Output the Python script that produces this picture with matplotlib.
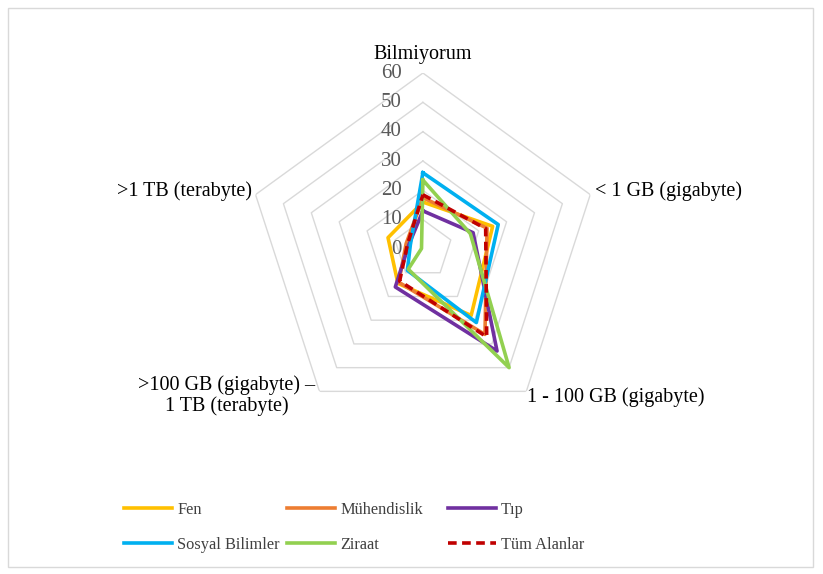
import numpy as np
import matplotlib
matplotlib.use("Agg")
import matplotlib.pyplot as plt
from matplotlib.patches import Rectangle

plt.rcParams['font.family'] = ['Liberation Serif', 'DejaVu Serif']

categories = ["Bilmiyorum", "< 1 GB (gigabyte)", "1 - 100 GB (gigabyte)",
              ">100 GB (gigabyte) \u2013\n1 TB (terabyte)", ">1 TB (terabyte)"]

fen = [16, 25, 28, 14.5, 12.5]
muhendislik = [17.5, 23, 36, 14, 6]
tip = [13, 18, 43, 16, 5]
sosyal = [26, 27, 31, 9, 4.5]
ziraat = [23.5, 17, 50, 8.5, 0.5]
tum = [18.5, 22.5, 37, 13.5, 5.5]

series_names = ["Fen", "Mühendislik", "Tıp", "Sosyal Bilimler", "Ziraat", "Tüm Alanlar"]
series_values = [fen, muhendislik, tip, sosyal, ziraat, tum]
colors = ["#FFC000", "#ED7D31", "#7030A0", "#00B0F0", "#92D050", "#C00000"]
styles = ["-", "-", "-", "-", "-", (0, (2.4, 1.5))]

levels = [0, 10, 20, 30, 40, 50, 60]

n = len(categories)
angles = np.linspace(0, 2 * np.pi, n, endpoint=False)
closed = np.append(angles, angles[0])

fig = plt.figure(figsize=(8.23, 5.74), dpi=100)
fig.patches.append(Rectangle((8 / 823, 7 / 574), 805 / 823, 559 / 574,
                             transform=fig.transFigure, fill=False,
                             edgecolor="#d9d9d9", linewidth=1))

ax = fig.add_axes([0.300, 0.2596, 0.4277, 0.6132], projection="polar")
ax.set_theta_offset(np.pi / 2)
ax.set_theta_direction(-1)
ax.set_ylim(0, 60)
ax.grid(False)
ax.spines["polar"].set_visible(False)
ax.set_xticks([])
ax.set_yticks([])
ax.patch.set_alpha(0)

# pentagon gridlines
for lvl in levels[1:]:
    ax.plot(closed, [lvl] * (n + 1), color="#d9d9d9", linewidth=1, zorder=1)

# radial tick labels along the top spoke
for lvl in levels:
    ax.annotate(str(lvl), xy=(0, lvl), xytext=(-21, 0), textcoords="offset pixels",
                ha="right", va="center", fontsize=15, color="#595959")

# category labels
offsets = [(0, 19, "center"), (5, 3, "left"), (1, -6, "left"),
           (-4, -4, "right"), (-4, 3, "right")]
for ang, cat, (dx, dy, ha) in zip(angles, categories, offsets):
    ax.annotate(cat, xy=(ang, 60), xytext=(dx, dy), textcoords="offset pixels",
                ha=ha, va="center", multialignment="center", linespacing=1.1,
                fontsize=14.5, color="#000000", annotation_clip=False)

lines = []
for name, vals, c, ls in zip(series_names, series_values, colors, styles):
    ln, = ax.plot(closed, vals + vals[:1], color=c, linestyle=ls, linewidth=2.6,
                  label=name, zorder=3)
    lines.append(ln)

# one legend per column so the columns sit at fixed positions
col_x = [109, 272, 433]
for col, x in enumerate(col_x):
    idx = [col, col + 3]
    fig.legend([lines[i] for i in idx], [series_names[i] for i in idx],
               loc="upper left", bbox_to_anchor=(x / 823, 1 - 487 / 574),
               frameon=False, fontsize=11.8, handlelength=2.95, handletextpad=0.3,
               labelspacing=1.15, labelcolor="#404040")

fig.savefig("out.png", dpi=100)
